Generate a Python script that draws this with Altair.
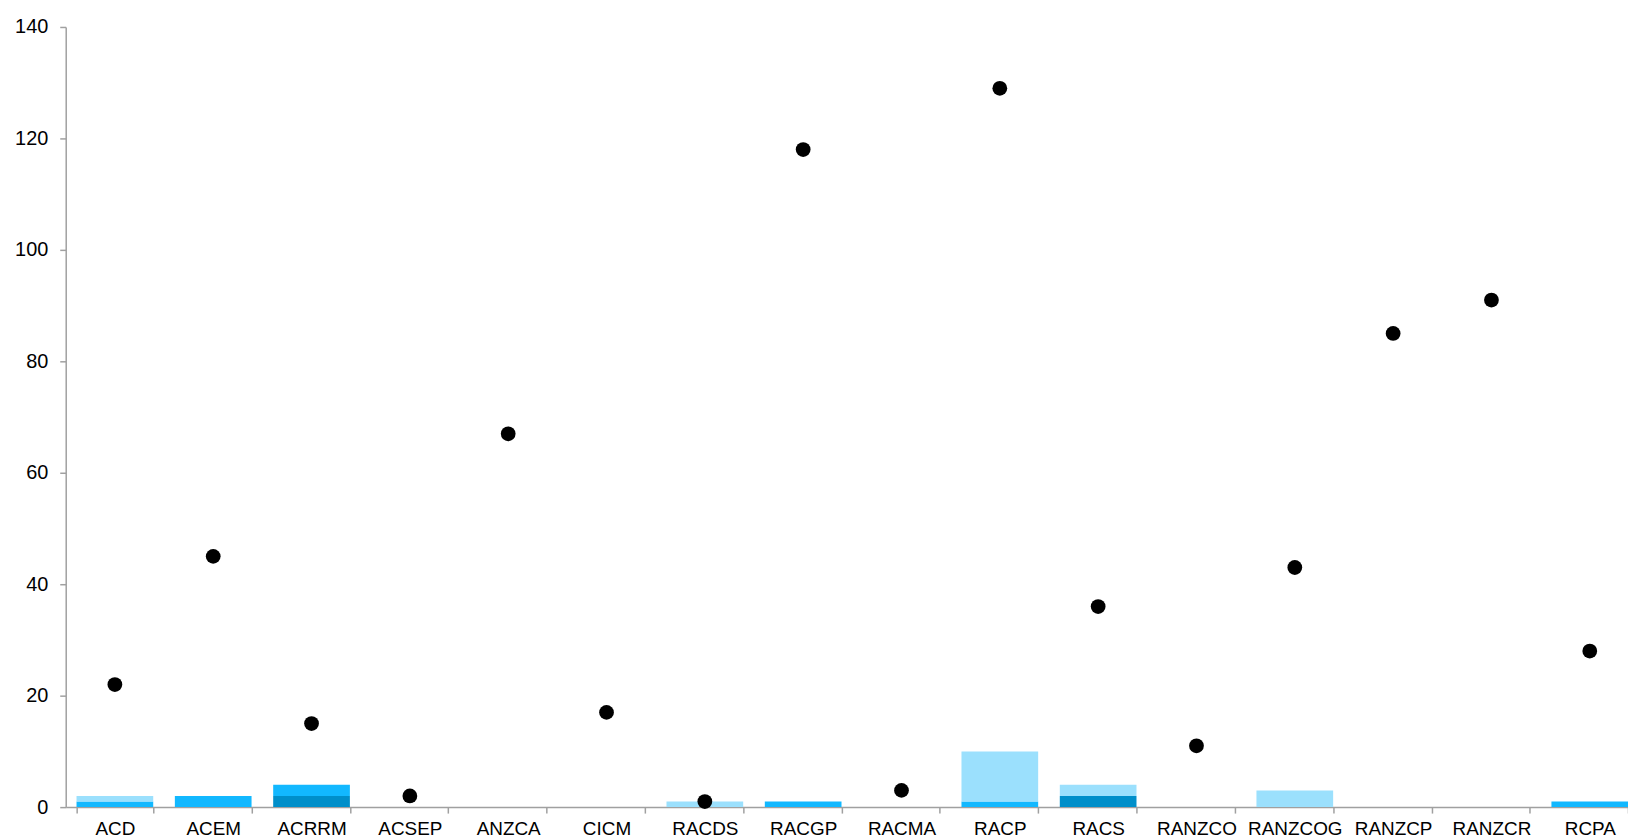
import altair as alt
import pandas as pd

categories = ["ACD", "ACEM", "ACRRM", "ACSEP", "ANZCA", "CICM", "RACDS", "RACGP",
              "RACMA", "RACP", "RACS", "RANZCO", "RANZCOG", "RANZCP", "RANZCR", "RCPA"]
series_dark = [0, 0, 2, 0, 0, 0, 0, 0, 0, 0, 2, 0, 0, 0, 0, 0]
series_mid = [1, 2, 2, 0, 0, 0, 0, 1, 0, 1, 0, 0, 0, 0, 0, 1]
series_light = [1, 0, 0, 0, 0, 0, 1, 0, 0, 9, 2, 0, 3, 0, 0, 0]
totals = [22, 45, 15, 2, 67, 17, 1, 118, 3, 129, 36, 11, 43, 85, 91, 28]

series_names = ["Series 1", "Series 2", "Series 3"]
series_colors = ["#008fca", "#12b8ff", "#9be0fd"]

rows = []
for i, c in enumerate(categories):
    for k, vals in enumerate([series_dark, series_mid, series_light]):
        rows.append({"category": c, "series": series_names[k], "order": k, "value": vals[i]})
bars_df = pd.DataFrame(rows)
pts_df = pd.DataFrame({"category": categories, "total": totals})

FONT = "Liberation Sans"

x_scale = alt.Scale(paddingInner=0.22, paddingOuter=0.11, range=[0, 1581])
x_enc = alt.X("category:N", sort=categories, title=None, scale=x_scale,
              axis=alt.Axis(labelAngle=0, labelFontSize=19, labelColor="#000000",
                            labelFont=FONT, labelPadding=7, tickBand="extent",
                            domainColor="#a0a0a0", domainWidth=1.5,
                            tickColor="#a0a0a0", tickWidth=1.5, tickSize=6))

y_scale = alt.Scale(domain=[0, 140], nice=False)
y_axis = alt.Axis(values=[0, 20, 40, 60, 80, 100, 120, 140], grid=False,
                  labelFontSize=20, labelColor="#000000", labelFont=FONT,
                  labelPadding=12, domainColor="#a0a0a0", domainWidth=1.5,
                  tickColor="#a0a0a0", tickWidth=1.5, tickSize=6)

bars = alt.Chart(bars_df).mark_bar().encode(
    x=x_enc,
    y=alt.Y("value:Q", stack="zero", scale=y_scale, title=None, axis=y_axis),
    color=alt.Color("series:N", scale=alt.Scale(domain=series_names, range=series_colors), legend=None),
    order=alt.Order("order:Q"),
)

points = alt.Chart(pts_df).mark_circle(size=220, color="#000000", opacity=1).encode(
    x=alt.X("category:N", sort=categories),
    y=alt.Y("total:Q", scale=y_scale, title=None),
)

chart = alt.layer(bars, points).properties(
    width=1570, height=784,
    autosize=alt.AutoSizeParams(type="none"),
    padding={"left": 58, "top": 17, "right": 0, "bottom": 34},
).configure(font=FONT).configure_view(strokeWidth=0).configure_axis(grid=False)

chart.save("out.html", embed_options={"renderer": "svg", "actions": False})
